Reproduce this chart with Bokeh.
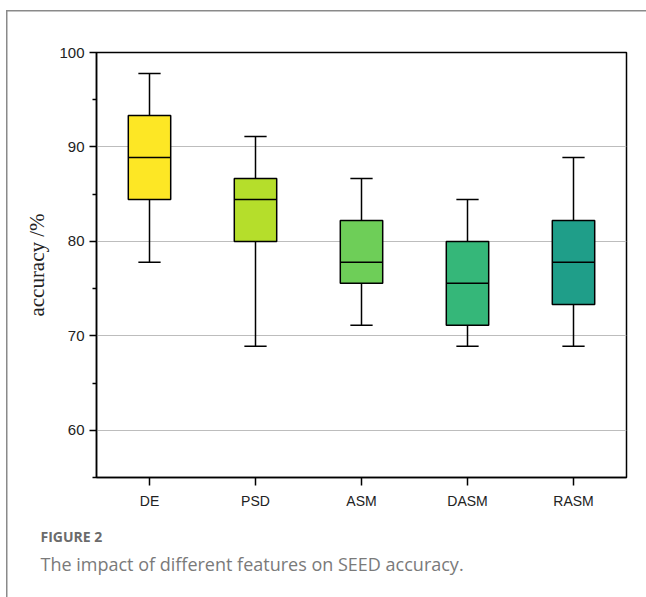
from bokeh.plotting import figure
from bokeh.models import ColumnDataSource, Range1d, FixedTicker, Title
from bokeh.transform import dodge
from bokeh.embed import file_html
from bokeh.resources import INLINE

# ---- data ----
categories = ["DE", "PSD", "ASM", "DASM", "RASM"]
whisker_low = [77.78, 68.89, 71.11, 68.89, 68.89]
q1 = [84.44, 80.00, 75.56, 71.11, 73.33]
median = [88.89, 84.44, 77.78, 75.56, 77.78]
q3 = [93.33, 86.67, 82.22, 80.00, 82.22]
whisker_high = [97.78, 91.11, 86.67, 84.44, 88.89]
colors = ["#FDE725", "#B5DE2B", "#6ECE58", "#35B779", "#1F9E89"]
y_ticks = [60, 70, 80, 90, 100]
y_minor = [55, 65, 75, 85, 95]
grid_ticks = [60, 70, 80, 90]

src = ColumnDataSource(dict(cat=categories, lo=whisker_low, q1=q1, med=median,
                            q3=q3, hi=whisker_high, color=colors))

p = figure(width=646, height=597, x_range=categories, y_range=Range1d(55, 100),
           output_backend="svg", toolbar_location=None,
           min_border_left=96, min_border_right=20, min_border_top=52, min_border_bottom=120)
p.background_fill_color = "white"
p.border_fill_color = "white"
p.border_fill_alpha = 0
p.styles = {
    "background": "linear-gradient(#8a8a8a, #8a8a8a) 6px 10px / 1.5px 100% no-repeat, "
                  "linear-gradient(#8a8a8a, #8a8a8a) 6px 10px / 100% 1.5px no-repeat, white"
}
p.outline_line_color = "black"
p.outline_line_width = 1.5
p.x_range.range_padding = 0

# grid
p.xgrid.visible = False
p.ygrid.ticker = FixedTicker(ticks=grid_ticks)
p.ygrid.grid_line_color = "#bdbdbd"
p.ygrid.grid_line_width = 1

# whiskers
p.segment(x0="cat", y0="q3", x1="cat", y1="hi", source=src, line_color="black", line_width=1.5)
p.segment(x0="cat", y0="lo", x1="cat", y1="q1", source=src, line_color="black", line_width=1.5)
p.segment(x0=dodge("cat", -0.105, range=p.x_range), y0="hi",
          x1=dodge("cat", 0.105, range=p.x_range), y1="hi",
          source=src, line_color="black", line_width=1.5)
p.segment(x0=dodge("cat", -0.105, range=p.x_range), y0="lo",
          x1=dodge("cat", 0.105, range=p.x_range), y1="lo",
          source=src, line_color="black", line_width=1.5)
# boxes
p.vbar(x="cat", top="q3", bottom="q1", width=0.4, source=src, fill_color="color",
       line_color="black", line_width=1.5)
# medians
p.segment(x0=dodge("cat", -0.2, range=p.x_range), y0="med",
          x1=dodge("cat", 0.2, range=p.x_range), y1="med",
          source=src, line_color="black", line_width=1.5)

# axes
ya = p.yaxis[0]
ya.ticker = FixedTicker(ticks=y_ticks, minor_ticks=y_minor)
ya.major_tick_out = 7
ya.major_tick_in = 0
ya.minor_tick_out = 4
ya.minor_tick_in = 0
ya.axis_line_width = 1.5
ya.major_tick_line_width = 1.5
ya.minor_tick_line_width = 1.5
ya.major_label_text_font = "Liberation Sans"
ya.major_label_text_font_size = "15px"
ya.major_label_text_color = "#222222"
ya.major_label_standoff = 5
ya.axis_label = "accuracy /%"
ya.axis_label_text_font = "Liberation Serif"
ya.axis_label_text_font_style = "normal"
ya.axis_label_text_font_size = "21px"
ya.axis_label_text_color = "#222222"
ya.axis_label_standoff = 7

xa = p.xaxis[0]
xa.major_tick_out = 8
xa.major_tick_in = 0
xa.axis_line_width = 1.5
xa.major_tick_line_width = 1.5
xa.major_label_text_font = "Liberation Sans"
xa.major_label_text_font_size = "14px"
xa.major_label_text_color = "#222222"
xa.major_label_standoff = 7

# caption
t1 = Title(text="FIGURE 2", align="left", offset=-56, standoff=27,
           text_font="Open Sans", text_font_style="bold", text_font_size="14px",
           text_color="#6b6b6b")
t2 = Title(text="The impact of different features on SEED accuracy.", align="left",
           offset=-56, standoff=-19,
           text_font="Open Sans", text_font_style="normal", text_font_size="18px",
           text_color="#7a7a7a")
p.add_layout(t1, "below")
p.add_layout(t2, "below")

open("out.html", "w").write(file_html(p, INLINE))
